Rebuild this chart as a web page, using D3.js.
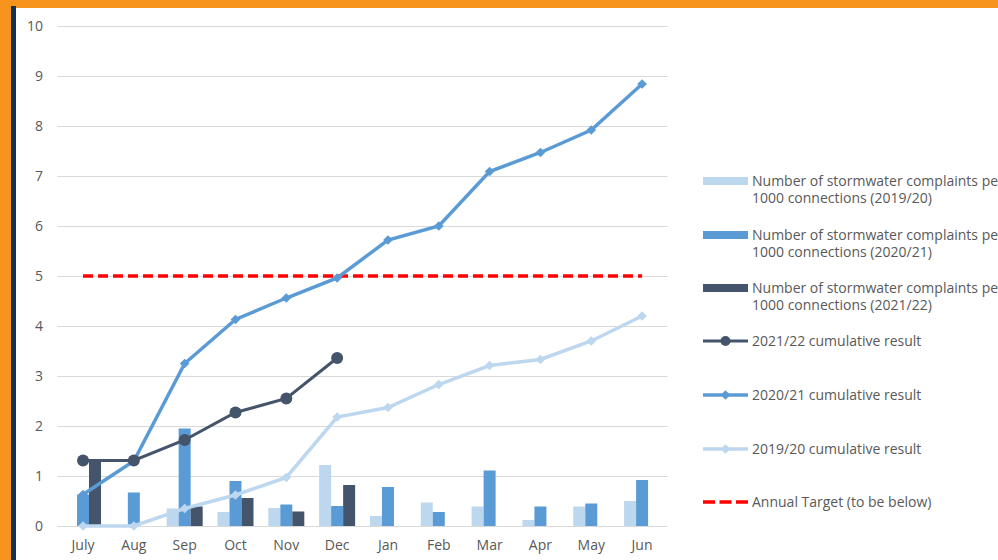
<!DOCTYPE html>
<html>
<head>
<meta charset="utf-8">
<script src="https://cdn.jsdelivr.net/npm/d3@7"></script>
<style>
  body { margin: 0; background: #f7941d; }
  svg { display: block; }
  text { font-family: "Open Sans", "Liberation Sans", sans-serif; fill: #595959; }
</style>
</head>
<body>
<div id="chart"></div>
<script>
// months of the financial year
const months = ["July", "Aug", "Sep", "Oct", "Nov", "Dec", "Jan", "Feb", "Mar", "Apr", "May", "Jun"];
const yTicks = [0, 1, 2, 3, 4, 5, 6, 7, 8, 9, 10];

// monthly complaints per 1000 connections
const bars1920 = [0, 0, 0.35, 0.28, 0.36, 1.22, 0.20, 0.47, 0.39, 0.12, 0.39, 0.50];
const bars2021 = [0.63, 0.67, 1.95, 0.90, 0.43, 0.40, 0.78, 0.28, 1.11, 0.39, 0.45, 0.92];
const bars2122 = [1.30, 0, 0.39, 0.56, 0.29, 0.82];

// cumulative results
const cum2122 = [1.31, 1.31, 1.72, 2.27, 2.55, 3.36];
const cum2021 = [0.63, 1.30, 3.25, 4.13, 4.56, 4.96, 5.72, 6.00, 7.09, 7.47, 7.92, 8.84];
const cum1920 = [0, 0, 0.35, 0.62, 0.97, 2.18, 2.37, 2.83, 3.21, 3.33, 3.70, 4.20];

const target = 5;

const barLabels = [
  ["Number of stormwater complaints per", "1000 connections (2019/20)"],
  ["Number of stormwater complaints per", "1000 connections (2020/21)"],
  ["Number of stormwater complaints per", "1000 connections (2021/22)"]
];
const lineLabels = ["2021/22 cumulative result", "2020/21 cumulative result", "2019/20 cumulative result", "Annual Target (to be below)"];

const cLight = "#bdd7ee", cMid = "#5b9bd5", cDark = "#44546a", cRed = "#ff0000";

const W = 998, H = 560;
const svg = d3.select("#chart").append("svg").attr("width", W).attr("height", H);

// frame
svg.append("rect").attr("width", W).attr("height", H).attr("fill", "#f7941d");
svg.append("rect").attr("x", 11).attr("y", 6).attr("width", 5).attr("height", H - 6).attr("fill", "#0f3356");
svg.append("rect").attr("x", 16).attr("y", 8).attr("width", W - 16).attr("height", H - 8).attr("fill", "#fff");

const x = d3.scaleBand().domain(months).range([57.6, 667.5]).padding(0);
const y = d3.scaleLinear().domain([0, 10]).range([526, 26]);
const cx = m => x(m) + x.bandwidth() / 2;

// gridlines
svg.append("g").selectAll("line").data(yTicks).join("line")
  .attr("x1", 57.6).attr("x2", 667.5)
  .attr("y1", d => Math.round(y(d)) + 0.5).attr("y2", d => Math.round(y(d)) + 0.5)
  .attr("stroke", "#d9d9d9").attr("stroke-width", 1);

// y labels
svg.append("g").selectAll("text").data(yTicks).join("text")
  .attr("x", 43).attr("y", d => y(d)).attr("dy", "0.35em")
  .attr("text-anchor", "end").style("font-size", "14px")
  .text(d => d);

// x labels
svg.append("g").selectAll("text").data(months).join("text")
  .attr("x", d => cx(d)).attr("y", 550)
  .attr("text-anchor", "middle").style("font-size", "14px")
  .text(d => d);

// bars
const sub = d3.scaleBand().domain(["a", "b", "c"]).range([-18, 18]);
const barSets = [
  { key: "a", vals: bars1920, color: cLight },
  { key: "b", vals: bars2021, color: cMid },
  { key: "c", vals: bars2122, color: cDark }
];
barSets.forEach(s => {
  svg.append("g").selectAll("rect").data(s.vals).join("rect")
    .attr("x", (d, i) => cx(months[i]) + sub(s.key))
    .attr("width", sub.bandwidth())
    .attr("y", d => y(d))
    .attr("height", d => y(0) - y(d))
    .attr("fill", s.color);
});

const line = d3.line().x((d, i) => cx(months[i])).y(d => y(d));

// target
svg.append("path").datum(months.map(() => target))
  .attr("d", line).attr("fill", "none")
  .attr("stroke", cRed).attr("stroke-width", 3.5).attr("stroke-dasharray", "10,5");

const diamond = d3.symbol().type(d3.symbolDiamond2).size(60);

// 2019/20 cumulative
svg.append("path").datum(cum1920).attr("d", line).attr("fill", "none")
  .attr("stroke", cLight).attr("stroke-width", 3.5);
svg.append("g").selectAll("path").data(cum1920).join("path")
  .attr("d", diamond)
  .attr("transform", (d, i) => `translate(${cx(months[i])},${y(d)})`)
  .attr("fill", cLight);

// 2020/21 cumulative
svg.append("path").datum(cum2021).attr("d", line).attr("fill", "none")
  .attr("stroke", cMid).attr("stroke-width", 3.5);
svg.append("g").selectAll("path").data(cum2021).join("path")
  .attr("d", diamond)
  .attr("transform", (d, i) => `translate(${cx(months[i])},${y(d)})`)
  .attr("fill", cMid);

// 2021/22 cumulative
svg.append("path").datum(cum2122).attr("d", line).attr("fill", "none")
  .attr("stroke", cDark).attr("stroke-width", 3);
svg.append("g").selectAll("circle").data(cum2122).join("circle")
  .attr("cx", (d, i) => cx(months[i])).attr("cy", d => y(d)).attr("r", 6)
  .attr("fill", cDark);

// legend
const lg = svg.append("g");
const lx = 703, tx = 752;
const barRows = [181, 235, 288];
barLabels.forEach((lab, i) => {
  lg.append("rect").attr("x", lx).attr("y", barRows[i] - 4).attr("width", 45).attr("height", 8)
    .attr("fill", barSets[i].color);
  lab.forEach((t, j) => {
    lg.append("text").attr("x", tx).attr("y", barRows[i] + j * 17).attr("dy", "0.35em")
      .style("font-size", "14px").text(t);
  });
});

const lineRows = [341, 395, 449, 502];
const lineStyles = [
  { color: cDark, w: 3, mark: "circle" },
  { color: cMid, w: 3.5, mark: "diamond" },
  { color: cLight, w: 3.5, mark: "diamond" },
  { color: cRed, w: 3.5, mark: "none", dash: "12,4.5" }
];
lineStyles.forEach((s, i) => {
  const ly = lineRows[i];
  lg.append("line").attr("x1", lx).attr("x2", lx + 45).attr("y1", ly).attr("y2", ly)
    .attr("stroke", s.color).attr("stroke-width", s.w)
    .attr("stroke-dasharray", s.dash || null);
  if (s.mark === "circle") {
    lg.append("circle").attr("cx", lx + 22.5).attr("cy", ly).attr("r", 5).attr("fill", s.color);
  } else if (s.mark === "diamond") {
    lg.append("path").attr("d", diamond).attr("transform", `translate(${lx + 22.5},${ly})`).attr("fill", s.color);
  }
  lg.append("text").attr("x", tx).attr("y", ly).attr("dy", "0.35em")
    .style("font-size", "14px").text(lineLabels[i]);
});
</script>
</body>
</html>
